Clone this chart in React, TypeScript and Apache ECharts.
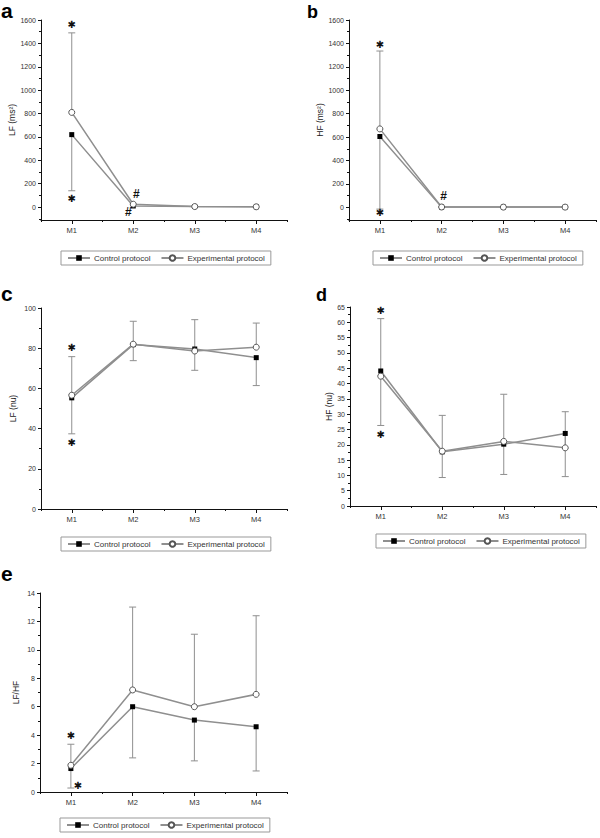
import React, { useEffect, useRef } from 'react';
import * as echarts from 'echarts';

// ---------- data ----------
const categories = ['M1', 'M2', 'M3', 'M4'];
const legendNames = ['Control protocol', 'Experimental protocol'];

// a: LF (ms²)
const lfMsControl = [620, 10, 5, 3];
const lfMsControlSD = [480, null, null, null];
const lfMsExperimental = [810, 25, 5, 3];
const lfMsExperimentalSD = [680, null, null, null];
const lfMsTicks = [0, 200, 400, 600, 800, 1000, 1200, 1400, 1600];
const lfMsMinor = [-100, 100, 300, 500, 700, 900, 1100, 1300, 1500];
const lfMsMarks: [number, number, string][] = [[0, 1560, '✱'], [0, 71, '✱'], [1, 114, '#'], [1, -40, '#']];

// b: HF (ms²)
const hfMsControl = [605, 2, 2, 2];
const hfMsControlSD = [620, null, null, null];
const hfMsExperimental = [670, 3, 2, 2];
const hfMsExperimentalSD = [665, null, null, null];
const hfMsTicks = [0, 200, 400, 600, 800, 1000, 1200, 1400, 1600];
const hfMsMinor = [-100, 100, 300, 500, 700, 900, 1100, 1300, 1500];
const hfMsMarks: [number, number, string][] = [[0, 1393, '✱'], [0, -48, '✱'], [1, 94, '#']];

// c: LF (nu)
const lfNuControl = [55.3, 81.8, 79.6, 75.3];
const lfNuControlSD = [17.9, 8.0, 10.6, 13.9];
const lfNuExperimental = [56.6, 82.0, 78.6, 80.5];
const lfNuExperimentalSD = [19.2, 11.4, 15.6, 12.0];
const lfNuTicks = [0, 20, 40, 60, 80, 100];
const lfNuMinor = [10, 30, 50, 70, 90];
const lfNuMarks: [number, number, string][] = [[0, 80.1, '✱'], [0, 32.9, '✱']];

// d: HF (nu)
const hfNuControl = [44.1, 17.7, 20.2, 23.7];
const hfNuControlSD = [17.8, 8.4, 9.9, 14.1];
const hfNuExperimental = [42.4, 17.9, 21.1, 19.0];
const hfNuExperimentalSD = [18.8, 11.7, 15.4, 11.8];
const hfNuTicks = [0, 5, 10, 15, 20, 25, 30, 35, 40, 45, 50, 55, 60, 65];
const hfNuMinor = [2.5, 7.5, 12.5, 17.5, 22.5, 27.5, 32.5, 37.5, 42.5, 47.5, 52.5, 57.5, 62.5];
const hfNuMarks: [number, number, string][] = [[0, 63.9, '✱'], [0, 23.5, '✱']];

// e: LF/HF
const ratioControl = [1.65, 6.0, 5.06, 4.59];
const ratioControlSD = [1.37, 3.6, 2.87, 3.11];
const ratioExperimental = [1.88, 7.18, 6.0, 6.87];
const ratioExperimentalSD = [1.48, 5.83, 5.1, 5.53];
const ratioTicks = [0, 2, 4, 6, 8, 10, 12, 14];
const ratioMinor = [1, 3, 5, 7, 9, 11, 13];
const ratioMarks: [number, number, string][] = [[0, 3.95, '✱'], [0, 0.47, '✱']];

// ---------- layout ----------
const FONT = '"Liberation Sans", Arial, sans-serif';
const LINE_COLOR = '#8f8f8f';
const ERR_COLOR = '#8f8f8f';

const panels = [
  {
    letter: 'a', letterX: 1, letterY: 21, letterSize: 21,
    grid: { left: 41, top: 20, width: 246, height: 200 },
    yMin: -110, yMax: 1600, ticks: lfMsTicks, minor: lfMsMinor,
    yName: 'LF (ms²)', nameGap: 24,
    control: lfMsControl, controlSD: lfMsControlSD, exp: lfMsExperimental, expSD: lfMsExperimentalSD,
    marks: lfMsMarks, markDx: [0, 0, 3, -5],
    legend: { left: 61, top: 251 },
  },
  {
    letter: 'b', letterX: 307, letterY: 21, letterSize: 18,
    grid: { left: 349, top: 20, width: 247, height: 200 },
    yMin: -108, yMax: 1600, ticks: hfMsTicks, minor: hfMsMinor,
    yName: 'HF (ms²)', nameGap: 24,
    control: hfMsControl, controlSD: hfMsControlSD, exp: hfMsExperimental, expSD: hfMsExperimentalSD,
    marks: hfMsMarks, markDx: [0, 0, 2],
    legend: { left: 373, top: 251 },
  },
  {
    letter: 'c', letterX: 1, letterY: 304, letterSize: 21,
    grid: { left: 41, top: 308, width: 246, height: 201 },
    yMin: 0, yMax: 100, ticks: lfNuTicks, minor: lfNuMinor,
    yName: 'LF (nu)', nameGap: 24,
    control: lfNuControl, controlSD: lfNuControlSD, exp: lfNuExperimental, expSD: lfNuExperimentalSD,
    marks: lfNuMarks, markDx: [0, 0],
    legend: { left: 61, top: 537 },
  },
  {
    letter: 'd', letterX: 316, letterY: 304, letterSize: 18,
    grid: { left: 350, top: 307, width: 246, height: 199 },
    yMin: 0, yMax: 65, ticks: hfNuTicks, minor: hfNuMinor,
    yName: 'HF (nu)', nameGap: 17,
    control: hfNuControl, controlSD: hfNuControlSD, exp: hfNuExperimental, expSD: hfNuExperimentalSD,
    marks: hfNuMarks, markDx: [0, 0],
    legend: { left: 376, top: 534 },
  },
  {
    letter: 'e', letterX: 1, letterY: 584, letterSize: 21,
    grid: { left: 40, top: 593, width: 247, height: 199 },
    yMin: 0, yMax: 14, ticks: ratioTicks, minor: ratioMinor,
    yName: 'LF/HF', nameGap: 20,
    control: ratioControl, controlSD: ratioControlSD, exp: ratioExperimental, expSD: ratioExperimentalSD,
    marks: ratioMarks, markDx: [0, 7],
    legend: { left: 60, top: 818 },
  },
];

function buildOption() {
  const grid: any[] = [];
  const xAxis: any[] = [];
  const yAxis: any[] = [];
  const series: any[] = [];
  const legend: any[] = [];
  const graphic: any[] = [];

  panels.forEach((p, i) => {
    grid.push({ ...p.grid, containLabel: false, outerBoundsMode: 'none' });
    const xMain = i * 2;
    const yMain = i * 2;
    xAxis.push({
      type: 'category', gridIndex: i, data: categories, position: 'bottom', boundaryGap: true,
      axisLine: { show: true, onZero: false, lineStyle: { color: '#111', width: 1 } },
      axisTick: { show: true, alignWithLabel: true, length: 4, lineStyle: { color: '#111' } },
      axisLabel: { show: true, fontSize: 7.5, color: '#333', margin: 6, fontFamily: FONT },
      splitLine: { show: false },
    });
    xAxis.push({
      type: 'category', gridIndex: i, data: categories, position: 'bottom', boundaryGap: true,
      axisLine: { show: false, onZero: false },
      axisTick: { show: true, alignWithLabel: false, length: 2, lineStyle: { color: '#111' } },
      axisLabel: { show: false },
      splitLine: { show: false },
    });
    yAxis.push({
      type: 'value', gridIndex: i, position: 'left', min: p.yMin, max: p.yMax,
      name: p.yName, nameLocation: 'middle', nameRotate: 90, nameGap: p.nameGap,
      nameTextStyle: { fontSize: 8.5, color: '#222', fontFamily: FONT },
      axisLine: { show: true, onZero: false, lineStyle: { color: '#111', width: 1 } },
      axisTick: { show: true, length: 3, customValues: p.ticks, lineStyle: { color: '#111' } },
      axisLabel: {
        show: true, customValues: p.ticks, fontSize: 7, color: '#333', margin: 5, fontFamily: FONT,
        formatter: (v: number) => String(v),
      },
      splitLine: { show: false },
    });
    yAxis.push({
      type: 'value', gridIndex: i, position: 'left', min: p.yMin, max: p.yMax,
      axisLine: { show: false, onZero: false },
      axisTick: { show: true, length: 2, customValues: p.minor, lineStyle: { color: '#111' } },
      axisLabel: { show: false },
      splitLine: { show: false },
    });

    const errRender = (params: any, api: any) => {
      const x = api.value(0);
      const v = api.value(1);
      const e = api.value(2);
      const p1 = api.coord([x, v]);
      const p2 = api.coord([x, e]);
      return {
        type: 'group',
        children: [
          { type: 'line', shape: { x1: p1[0], y1: p1[1], x2: p2[0], y2: p2[1] }, style: { stroke: ERR_COLOR, lineWidth: 1 } },
          { type: 'line', shape: { x1: p2[0] - 3.5, y1: p2[1], x2: p2[0] + 3.5, y2: p2[1] }, style: { stroke: ERR_COLOR, lineWidth: 1 } },
        ],
      };
    };
    const ctrlErr: any[] = [];
    p.control.forEach((v, k) => { const sd = p.controlSD[k]; if (sd != null) ctrlErr.push([k, v, v - sd]); });
    const expErr: any[] = [];
    p.exp.forEach((v, k) => { const sd = p.expSD[k]; if (sd != null) expErr.push([k, v, v + sd]); });

    series.push({
      type: 'custom', name: 'ctrlErr' + i, xAxisIndex: xMain, yAxisIndex: yMain, z: 1,
      renderItem: errRender, data: ctrlErr, encode: { x: 0, y: [1, 2] }, silent: true,
    });
    series.push({
      type: 'custom', name: 'expErr' + i, xAxisIndex: xMain, yAxisIndex: yMain, z: 1,
      renderItem: errRender, data: expErr, encode: { x: 0, y: [1, 2] }, silent: true,
    });
    series.push({
      type: 'line', name: legendNames[0], xAxisIndex: xMain, yAxisIndex: yMain, z: 3,
      data: p.control, symbol: 'rect', symbolSize: 5, showAllSymbol: true,
      itemStyle: { color: '#000', borderColor: '#000', borderWidth: 0 },
      lineStyle: { color: LINE_COLOR, width: 1.5 },
      emphasis: { disabled: true },
    });
    series.push({
      type: 'line', name: legendNames[1], xAxisIndex: xMain, yAxisIndex: yMain, z: 4,
      data: p.exp, symbol: 'circle', symbolSize: 6, showAllSymbol: true,
      itemStyle: { color: '#fff', borderColor: '#555', borderWidth: 1 },
      lineStyle: { color: LINE_COLOR, width: 1.5 },
      emphasis: { disabled: true },
    });
    const marks = p.marks;
    const dx = p.markDx;
    series.push({
      type: 'custom', name: 'marks' + i, xAxisIndex: xMain, yAxisIndex: yMain, z: 5, silent: true,
      data: marks.map((m) => [m[0], m[1]]), encode: { x: 0, y: 1 },
      renderItem: (params: any, api: any) => {
        const pt = api.coord([api.value(0), api.value(1)]);
        const txt = marks[params.dataIndex][2];
        const isStar = txt === '✱';
        return {
          type: 'text', x: pt[0] + dx[params.dataIndex], y: pt[1],
          style: {
            text: txt, fill: '#111', align: 'center', verticalAlign: 'middle',
            font: isStar ? 'bold 10px "DejaVu Sans", sans-serif' : 'bold 12px ' + FONT,
          },
        };
      },
    });

    legend.push({
      show: true, orient: 'horizontal', left: p.legend.left, top: p.legend.top,
      data: legendNames, borderColor: '#999', borderWidth: 1, borderRadius: 0,
      padding: [3, 6], itemGap: 10, itemWidth: 22, itemHeight: 7,
      textStyle: { fontSize: 8, color: '#333', fontFamily: FONT, padding: [0, 0, 0, -1] },
      selectedMode: false,
    });

    graphic.push({
      type: 'text', x: p.letterX, y: p.letterY,
      style: { text: p.letter, fill: '#000', font: `bold ${p.letterSize}px ${FONT}`, align: 'left', verticalAlign: 'bottom' },
    });
  });

  return {
    animation: false,
    backgroundColor: '#fff',
    textStyle: { fontFamily: FONT },
    grid, xAxis, yAxis, series, legend, graphic,
    tooltip: { show: false },
  };
}

export default function App() {
  const ref = useRef<HTMLDivElement>(null);
  useEffect(() => {
    if (!ref.current) return;
    const chart = echarts.init(ref.current, undefined, { renderer: 'svg' });
    chart.setOption(buildOption() as any);
    return () => chart.dispose();
  }, []);
  return (
    <div
      ref={ref}
      style={{ position: 'absolute', left: 0, top: 0, width: 600, height: 838, background: '#fff' }}
    />
  );
}
